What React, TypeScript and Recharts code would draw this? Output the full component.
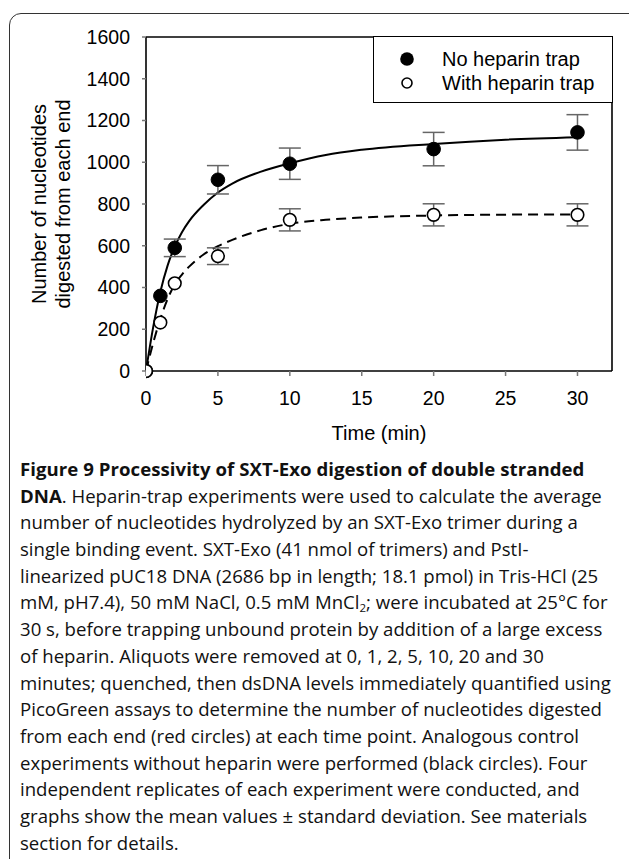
import React from "react";
import {
  ComposedChart,
  Line,
  Scatter,
  XAxis,
  YAxis,
  ErrorBar,
  ReferenceLine,
} from "recharts";

// ---- data ----
// (null = error bar hidden behind the marker in the reference)
const times = [0, 1, 2, 5, 10, 20, 30];
const noTrapMean = [0, 360, 590, 916, 993, 1063, 1143];
const noTrapSD = [null, null, 42, 68, 75, 80, 85];
const trapMean = [0, 232, 420, 550, 724, 748, 748];
const trapSD = [null, null, null, 40, 53, 53, 53];

const fitTimes = [0, 0.5, 1, 1.5, 2, 2.5, 3, 4, 5, 6, 8, 10, 12.5, 15, 20, 25, 30];
const noTrapFit = [0, 210, 380, 505, 596, 665, 718, 795, 855, 898, 955, 995, 1035, 1060, 1088, 1108, 1120];
const trapFit = [0, 135, 250, 345, 415, 462, 500, 558, 598, 628, 675, 705, 724, 735, 745, 749, 750];

const xTicks = [0, 5, 10, 15, 20, 25, 30];
const yTicks = [0, 200, 400, 600, 800, 1000, 1200, 1400, 1600];
const xMax = 32.4;
const yMax = 1600;

const legendItems = ["No heparin trap", "With heparin trap"];

const captionLines: React.ReactNode[] = [
  <b key="b" style={{ letterSpacing: "0.05px" }}>Figure 9 Processivity of SXT-Exo digestion of double stranded</b>,
  <>
    <b>DNA</b>. Heparin-trap experiments were used to calculate the average
  </>,
  "number of nucleotides hydrolyzed by an SXT-Exo trimer during a",
  "single binding event. SXT-Exo (41 nmol of trimers) and PstI-",
  "linearized pUC18 DNA (2686 bp in length; 18.1 pmol) in Tris-HCl (25",
  <>
    mM, pH7.4), 50 mM NaCl, 0.5 mM MnCl
    <span style={{ fontSize: "0.62em", position: "relative", top: 3 }}>2</span>; were incubated at 25°C for
  </>,
  "30 s, before trapping unbound protein by addition of a large excess",
  "of heparin. Aliquots were removed at 0, 1, 2, 5, 10, 20 and 30",
  "minutes; quenched, then dsDNA levels immediately quantified using",
  "PicoGreen assays to determine the number of nucleotides digested",
  "from each end (red circles) at each time point. Analogous control",
  "experiments without heparin were performed (black circles). Four",
  "independent replicates of each experiment were conducted, and",
  "graphs show the mean values ± standard deviation. See materials",
  "section for details.",
];

const noTrapPts = times.map((t, i) => ({ t, v: noTrapMean[i], err: noTrapSD[i] }));
const trapPts = times.map((t, i) => ({ t, v: trapMean[i], err: trapSD[i] }));
const noTrapLine = fitTimes.map((t, i) => ({ t, v: noTrapFit[i] }));
const trapLine = fitTimes.map((t, i) => ({ t, v: trapFit[i] }));

const FONT = "'Liberation Sans', Arial, sans-serif";

const noDot = () => <g />;
const filledDot = (p: any) => <circle cx={p.cx} cy={p.cy} r={6.8} fill="#000" stroke="#000" strokeWidth={1} />;
const openDot = (p: any) => <circle cx={p.cx} cy={p.cy} r={6.3} fill="#fff" stroke="#000" strokeWidth={1.6} />;

export default function App() {
  return (
    <div
      style={{
        position: "fixed",
        left: 0,
        top: 0,
        width: 629,
        height: 859,
        overflow: "hidden",
        background: "#fff",
      }}
    >
      {/* rounded frame */}
      <div
        style={{
          position: "absolute",
          left: 9,
          top: 13,
          width: 660,
          height: 900,
          border: "1.5px solid #333",
          borderRadius: 12,
          boxSizing: "border-box",
        }}
      />
      <div style={{ position: "absolute", left: 0, top: 0 }}>
        <ComposedChart
          width={629}
          height={460}
          margin={{ top: 37, right: 17, left: 0, bottom: 0 }}
        >
          <XAxis
            type="number"
            dataKey="t"
            domain={[0, xMax]}
            ticks={xTicks}
            allowDataOverflow
            height={89}
            axisLine={{ stroke: "#000", strokeWidth: 1.6 }}
            tickLine={{ stroke: "#777", strokeWidth: 1.5 }}
            tickSize={5}
            tickMargin={15}
            tick={{ fill: "#000", fontSize: 19.5, fontFamily: FONT }}
          />
          <YAxis
            type="number"
            domain={[0, yMax]}
            ticks={yTicks}
            width={146}
            axisLine={{ stroke: "#000", strokeWidth: 1.6 }}
            tickLine={{ stroke: "#777", strokeWidth: 1.5 }}
            tickSize={4}
            tickMargin={12}
            tick={{ fill: "#000", fontSize: 19.5, fontFamily: FONT }}
          />
          <ReferenceLine y={yMax} stroke="#000" strokeWidth={1.6} />
          <ReferenceLine x={xMax} stroke="#000" strokeWidth={1.6} />
          <Line
            data={noTrapLine}
            dataKey="v"
            type="monotone"
            stroke="#000"
            strokeWidth={2}
            dot={false}
            activeDot={false}
            isAnimationActive={false}
          />
          <Line
            data={trapLine}
            dataKey="v"
            type="monotone"
            stroke="#000"
            strokeWidth={2}
            strokeDasharray="10 6"
            dot={false}
            activeDot={false}
            isAnimationActive={false}
          />
          {/* error bars first, so the markers sit on top of them */}
          <Scatter data={noTrapPts} dataKey="v" shape={noDot} isAnimationActive={false}>
            <ErrorBar dataKey="err" direction="y" width={11} stroke="#666" strokeWidth={1.5} />
          </Scatter>
          <Scatter data={trapPts} dataKey="v" shape={noDot} isAnimationActive={false}>
            <ErrorBar dataKey="err" direction="y" width={11} stroke="#666" strokeWidth={1.5} />
          </Scatter>
          <Scatter data={noTrapPts} dataKey="v" shape={filledDot} isAnimationActive={false} />
          <Scatter data={trapPts} dataKey="v" shape={openDot} isAnimationActive={false} />
        </ComposedChart>
      </div>

      {/* y-axis title */}
      <div
        style={{
          position: "absolute",
          left: 51,
          top: 204,
          transform: "translate(-50%, -50%) rotate(-90deg)",
          fontFamily: FONT,
          fontSize: 20,
          lineHeight: "24px",
          textAlign: "center",
          whiteSpace: "nowrap",
          color: "#000",
        }}
      >
        Number of nucleotides
        <br />
        digested from each end
      </div>

      {/* x-axis title */}
      <div
        style={{
          position: "absolute",
          left: 379,
          top: 433,
          transform: "translate(-50%, -50%)",
          fontFamily: FONT,
          fontSize: 20,
          whiteSpace: "nowrap",
          color: "#000",
        }}
      >
        Time (min)
      </div>

      {/* legend */}
      <div
        style={{
          position: "absolute",
          left: 373,
          top: 36,
          width: 240,
          height: 67,
          border: "1.6px solid #000",
          boxSizing: "border-box",
          background: "#fff",
          fontFamily: FONT,
          fontSize: 20,
          color: "#000",
        }}
      >
        {legendItems.map((label, i) => (
          <div
            key={label}
            style={{
              position: "absolute",
              left: 0,
              top: 10 + i * 24,
              height: 24,
              display: "flex",
              alignItems: "center",
              whiteSpace: "nowrap",
            }}
          >
            <svg width={68} height={24} style={{ display: "block" }}>
              {i === 0 ? (
                <circle cx={33} cy={12} r={6.8} fill="#000" />
              ) : (
                <circle cx={33} cy={12} r={5} fill="#fff" stroke="#000" strokeWidth={1.6} />
              )}
            </svg>
            <span>{label}</span>
          </div>
        ))}
      </div>

      {/* caption */}
      <div
        style={{
          position: "absolute",
          left: 20,
          top: 456,
          fontFamily: "'Open Sans', 'Noto Sans', sans-serif",
          fontSize: 18.6,
          lineHeight: "26.7px",
          color: "#111",
        }}
      >
        {captionLines.map((ln, i) => (
          <div key={i} style={{ whiteSpace: "nowrap", height: 26.7 }}>
            {ln}
          </div>
        ))}
      </div>
    </div>
  );
}
